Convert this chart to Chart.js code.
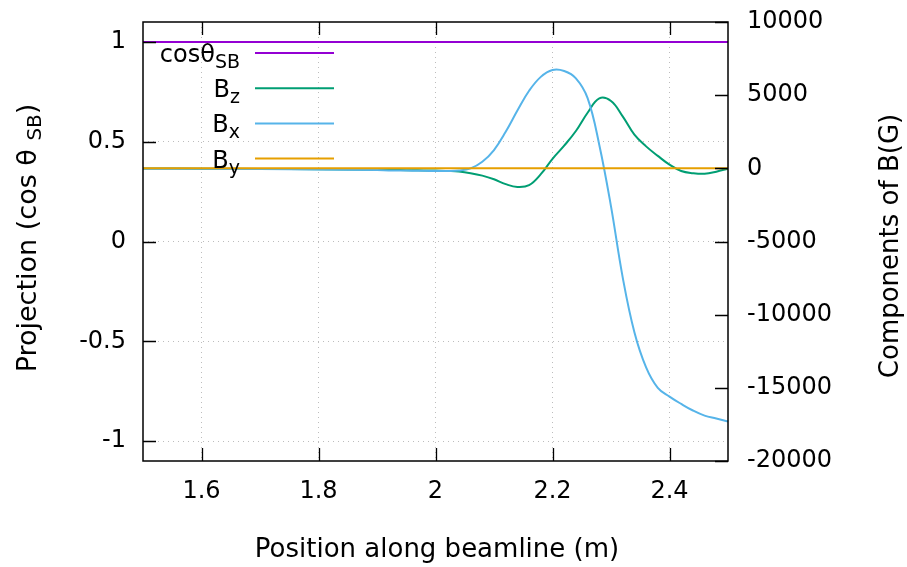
<!DOCTYPE html>
<html>
<head>
<meta charset="utf-8">
<script src="https://cdn.jsdelivr.net/npm/chart.js@4"></script>
<style>
  body { margin: 0; background: #fff; }
</style>
</head>
<body>
<canvas id="chart" width="907" height="567"></canvas>
<script>
// positions along the beamline (m)
const positions = [1.5, 1.6, 1.7, 1.8, 1.9, 1.92, 1.94, 1.96, 1.98, 2.0, 2.02, 2.04, 2.06, 2.08, 2.10,
  2.12, 2.14, 2.16, 2.18, 2.20, 2.22, 2.24, 2.26, 2.28, 2.30, 2.32, 2.34, 2.36, 2.38, 2.40,
  2.42, 2.44, 2.46, 2.48, 2.50]

// field components (G), right axis
const bz = [-10, -20, -40, -60, -100, -110, -120, -130, -140, -150, -180, -220, -330, -500, -750,
  -1080, -1270, -1150, -400, 650, 1550, 2550, 3800, 4780, 4600, 3550, 2300, 1500, 850, 250,
  -180, -330, -370, -230, -20]
const bx = [-20, -30, -50, -80, -120, -140, -150, -160, -170, -180, -180, -150, 0, 450, 1250,
  2500, 3950, 5300, 6250, 6720, 6650, 6150, 4800, 1600, -2600, -7450, -11200, -13600, -15000, -15600,
  -16100, -16550, -16900, -17100, -17300]
const by = positions.map(() => 0)

// projection, left axis
const cosTheta = positions.map(() => 1)

const xTicks = [1.6, 1.8, 2.0, 2.2, 2.4]
const leftTicks = [-1, -0.5, 0, 0.5, 1]
const rightTicks = [-20000, -15000, -10000, -5000, 0, 5000, 10000]

const FONT = '"DejaVu Sans"'
Chart.defaults.font.family = 'DejaVu Sans'
Chart.defaults.color = '#000'

const toPoints = ys => positions.map((x, i) => ({ x: x, y: ys[i] }))

function drawRich(ctx, parts, x, y, align) {
  let total = 0
  parts.forEach(p => {
    ctx.font = p.size + 'px ' + FONT
    p.w = ctx.measureText(p.t).width
    total += p.w
  })
  let cx = align === 'right' ? x - total : align === 'center' ? x - total / 2 : x
  ctx.textAlign = 'left'
  ctx.textBaseline = 'alphabetic'
  parts.forEach(p => {
    ctx.font = p.size + 'px ' + FONT
    ctx.fillText(p.t, cx, y + (p.dy || 0))
    cx += p.w
  })
}

const legendRows = [
  { main: 'cosθ', sub: 'SB', color: '#9400d3' },
  { main: 'B', sub: 'z', color: '#009e73' },
  { main: 'B', sub: 'x', color: '#56b4e9' },
  { main: 'B', sub: 'y', color: '#e69f00' },
]

const framePlugin = {
  id: 'frame',
  afterDatasetsDraw(chart) {
    const { ctx, chartArea: a, scales } = chart
    ctx.save()
    ctx.strokeStyle = '#000'
    ctx.lineWidth = 1.5
    ctx.strokeRect(a.left, a.top, a.right - a.left, a.bottom - a.top)
    ctx.lineWidth = 1.3
    ctx.beginPath()
    xTicks.forEach(v => {
      const px = Math.round(scales.x.getPixelForValue(v)) + 0.5
      ctx.moveTo(px, a.bottom); ctx.lineTo(px, a.bottom - 13)
      ctx.moveTo(px, a.top); ctx.lineTo(px, a.top + 13)
    })
    leftTicks.forEach(v => {
      const py = Math.round(scales.y.getPixelForValue(v)) + 0.5
      ctx.moveTo(a.left, py); ctx.lineTo(a.left + 13, py)
    })
    rightTicks.forEach(v => {
      const py = Math.round(scales.y2.getPixelForValue(v)) + 0.5
      ctx.moveTo(a.right, py); ctx.lineTo(a.right - 13, py)
    })
    ctx.stroke()

    // key
    ctx.fillStyle = '#000'
    legendRows.forEach((r, i) => {
      const y = 53 + i * 35.2
      drawRich(ctx, [
        { t: r.main, size: 24, dy: 9 },
        { t: r.sub, size: 19, dy: 15 },
      ], 240, y, 'right')
      ctx.strokeStyle = r.color
      ctx.lineWidth = 2
      ctx.beginPath()
      ctx.moveTo(255, y); ctx.lineTo(334, y)
      ctx.stroke()
    })
    ctx.restore()
  },
  afterDraw(chart) {
    const ctx = chart.ctx
    ctx.save()
    ctx.fillStyle = '#000'
    drawRich(ctx, [{ t: 'Position along beamline (m)', size: 26 }], 437, 557, 'center')

    ctx.save()
    ctx.translate(36, 238)
    ctx.rotate(-Math.PI / 2)
    drawRich(ctx, [
      { t: 'Projection (cos θ ', size: 27 },
      { t: 'SB', size: 20, dy: 5 },
      { t: ')', size: 27 },
    ], 0, 0, 'center')
    ctx.restore()

    ctx.save()
    ctx.translate(898, 246)
    ctx.rotate(-Math.PI / 2)
    drawRich(ctx, [{ t: 'Components of B(G)', size: 26 }], 0, 0, 'center')
    ctx.restore()
    ctx.restore()
  }
}

const line = (data, color, axis) => ({
  data: toPoints(data),
  borderColor: color,
  backgroundColor: color,
  borderWidth: 2,
  pointRadius: 0,
  tension: 0.4,
  yAxisID: axis,
})

const gridStyle = {
  color: '#bdbdbd',
  lineWidth: 1,
  drawTicks: false,
}

const noPad = axis => {
  axis.paddingTop = 0
  axis.paddingBottom = 0
  axis.paddingLeft = 0
  axis.paddingRight = 0
}

const ctx = document.getElementById('chart').getContext('2d')
const chart = new Chart(ctx, {
  type: 'line',
  data: {
    datasets: [
      line(by, '#e69f00', 'y2'),
      line(bx, '#56b4e9', 'y2'),
      line(bz, '#009e73', 'y2'),
      line(cosTheta, '#9400d3', 'y'),
    ],
  },
  options: {
    responsive: false,
    animation: false,
    layout: { padding: { top: 22, left: 0, right: 0, bottom: 0 } },
    plugins: {
      legend: { display: false },
      tooltip: { enabled: false },
    },
    scales: {
      x: {
        type: 'linear',
        min: 1.5,
        max: 2.5,
        grid: gridStyle,
        border: { display: false, dash: [1, 4] },
        ticks: { font: { size: 24 }, padding: 16, callback: v => String(v) },
        afterBuildTicks: axis => { axis.ticks = xTicks.map(v => ({ value: v })) },
        afterFit: axis => { axis.height = 106; noPad(axis) },
      },
      y: {
        position: 'left',
        min: -1.1,
        max: 1.1,
        grid: gridStyle,
        border: { display: false, dash: [1, 4] },
        ticks: { font: { size: 24 }, padding: 17, callback: v => String(v) },
        afterBuildTicks: axis => { axis.ticks = leftTicks.map(v => ({ value: v })) },
        afterFit: axis => { axis.width = 143; noPad(axis) },
      },
      y2: {
        position: 'right',
        min: -20000,
        max: 10000,
        grid: { drawOnChartArea: false, drawTicks: false },
        border: { display: false },
        ticks: { font: { size: 24 }, padding: 19, callback: v => String(v) },
        afterBuildTicks: axis => { axis.ticks = rightTicks.map(v => ({ value: v })) },
        afterFit: axis => { axis.width = 179; noPad(axis) },
      },
    },
  },
  plugins: [framePlugin],
})
</script>
</body>
</html>
